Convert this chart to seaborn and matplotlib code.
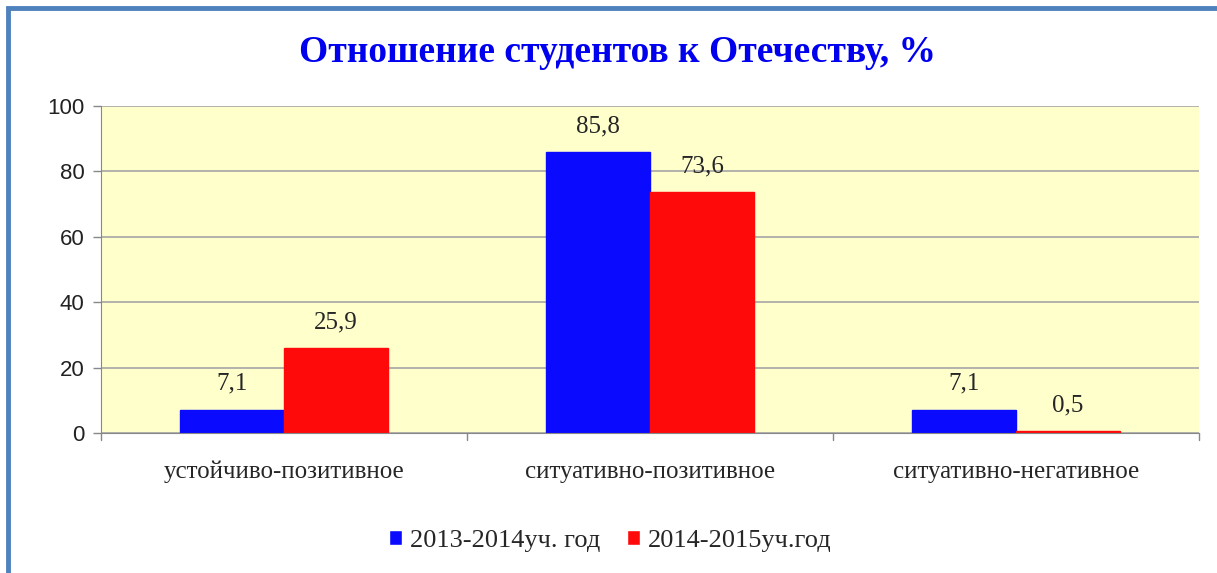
import matplotlib
matplotlib.use("Agg")
from matplotlib import pyplot as plt
from matplotlib.patches import Rectangle
import seaborn as sns
import pandas as pd

# Данные
categories = ["устойчиво-позитивное", "ситуативно-позитивное", "ситуативно-негативное"]
years = ["2013-2014уч. год", "2014-2015уч.год"]
vals_2013 = [7.1, 85.8, 7.1]
vals_2014 = [25.9, 73.6, 0.5]
colors = ["#0a0aff", "#ff0a0a"]

df = pd.DataFrame({
    "cat": categories * 2,
    "year": [years[0]] * 3 + [years[1]] * 3,
    "val": vals_2013 + vals_2014,
})

sns.set_style("white")
plt.rcParams['font.family'] = ['Liberation Serif', 'DejaVu Serif']

fig = plt.figure(figsize=(12.17, 5.73), dpi=100)
ax = fig.add_axes([101 / 1217, 1 - 433 / 573, 1098 / 1217, 327 / 573])

sns.barplot(data=df, x="cat", y="val", hue="year", palette=colors,
            width=0.568, saturation=1, ax=ax, legend=True)

ax.set_facecolor("#ffffcc")
ax.set_ylim(0, 100)
ax.set_xlim(-0.5, 2.5)
ax.set_yticks([0, 20, 40, 60, 80, 100])
ax.set_yticklabels(["0", "20", "40", "60", "80", "100"],
                   fontfamily="Liberation Sans", fontsize=16, color="#222222")
ax.yaxis.grid(True, color="#a6a6a6", linewidth=1.2)
ax.set_axisbelow(True)
ax.set_xlabel("")
ax.set_ylabel("")
ax.tick_params(axis="x", length=0, pad=20, labelsize=18)
ax.tick_params(axis="y", length=6, width=1, color="#888888", left=True, pad=6)
for s in ["top", "right"]:
    ax.spines[s].set_visible(False)
ax.spines["left"].set_color("#888888")
ax.spines["bottom"].set_color("#888888")

# Засечки между категориями
for xb in [-0.5, 0.5, 1.5, 2.5]:
    ax.plot([xb, xb], [0, -2], color="#888888", lw=1, clip_on=False)

# Подписи данных
for cont in ax.containers:
    for bar in cont:
        bar.set_edgecolor(bar.get_facecolor())
    labels = [f"{v:.1f}".replace(".", ",") for v in cont.datavalues]
    ax.bar_label(cont, labels=labels, padding=11, fontsize=18)

# Легенда
handles, lbls = ax.get_legend_handles_labels()
ax.legend(handles, lbls, loc="center", bbox_to_anchor=(0.464, -0.33),
          ncol=2, frameon=False, fontsize=19, handlelength=0.5,
          handleheight=0.5, handletextpad=0.3, columnspacing=1.0)

fig.text(617 / 1217, 1 - 52 / 573, "Отношение студентов к Отечеству, %",
         ha="center", va="center", fontsize=27, fontweight="bold",
         color="#0000ee")

# Рамка
fig.patches.append(Rectangle((8 / 1217, -0.05), 1.1, 1 - 8 / 573 + 0.05,
                             transform=fig.transFigure, fill=False,
                             edgecolor="#4f81bd", linewidth=3.5))

fig.savefig("out.png", dpi=100)
